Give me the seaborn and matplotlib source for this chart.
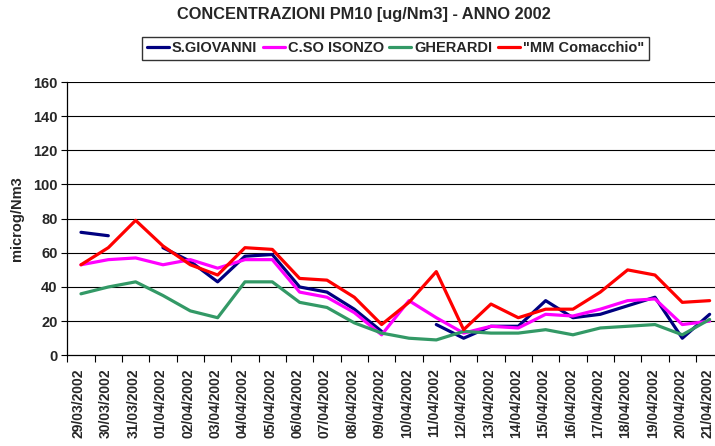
import numpy as np
import pandas as pd
import matplotlib
matplotlib.use("Agg")
import matplotlib.pyplot as plt
from matplotlib.lines import Line2D
import seaborn as sns

dates = ["29/03/2002", "30/03/2002", "31/03/2002", "01/04/2002", "02/04/2002",
         "03/04/2002", "04/04/2002", "05/04/2002", "06/04/2002", "07/04/2002",
         "08/04/2002", "09/04/2002", "10/04/2002", "11/04/2002", "12/04/2002",
         "13/04/2002", "14/04/2002", "15/04/2002", "16/04/2002", "17/04/2002",
         "18/04/2002", "19/04/2002", "20/04/2002", "21/04/2002"]

nan = np.nan
s_giovanni = [72, 70, nan, 63, 55, 43, 58, 59, 40, 37, 27, 14,
              nan, 18, 10, 17, 17, 32, 22, 24, 29, 34, 10, 24]
cso_isonzo = [53, 56, 57, 53, 56, 51, 56, 56, 37, 34, 25, 12,
              32, 22, 13, 17, 16, 24, 23, 27, 32, 33, 18, 20]
gherardi = [36, 40, 43, 35, 26, 22, 43, 43, 31, 28, 19, 13,
            10, 9, 14, 13, 13, 15, 12, 16, 17, 18, 12, 21]
mm_comacchio = [53, 63, 79, 64, 53, 47, 63, 62, 45, 44, 34, 18,
                31, 49, 15, 30, 22, 27, 27, 37, 50, 47, 31, 32]

series_names = ["S.GIOVANNI", "C.SO ISONZO", "GHERARDI", "\"MM Comacchio\""]
series_values = [s_giovanni, cso_isonzo, gherardi, mm_comacchio]
colors = ["#000080", "#FF00FF", "#339966", "#FF0000"]

yticks = [0, 20, 40, 60, 80, 100, 120, 140, 160]

# long table with segment ids so that missing values leave gaps
rows = []
for name, vals in zip(series_names, series_values):
    seg = 0
    prev_nan = False
    for i, v in enumerate(vals):
        if np.isnan(v):
            prev_nan = True
            continue
        if prev_nan:
            seg += 1
            prev_nan = False
        rows.append({"x": i, "value": v, "series": name, "seg": f"{name}_{seg}"})
df = pd.DataFrame(rows)

sns.set_theme(style="white")
plt.rcParams["font.family"] = ["Liberation Sans", "DejaVu Sans"]
plt.rcParams["font.weight"] = "bold"

fig = plt.figure(figsize=(7.15, 4.46), dpi=100)
ax = fig.add_axes([67.3 / 715, 1 - 355.3 / 446, 656 / 715, (355.3 - 82) / 446])

for y in yticks[1:]:
    ax.axhline(y, color="#000000", lw=0.8, zorder=0)

sns.lineplot(data=df, x="x", y="value", hue="series", units="seg", estimator=None,
             hue_order=series_names, palette=colors, lw=2.3, ax=ax, legend=False,
             sort=True)

ax.set_xlim(-0.5, len(dates) - 0.5)
ax.set_ylim(0, 160)
ax.set_yticks(yticks)
ax.set_yticklabels([str(t) for t in yticks], fontsize=10.5, fontweight="bold")

ax.set_xticks(np.arange(-0.5, len(dates) + 0.5, 1.0))
ax.set_xticklabels([])
ax.set_xticks(np.arange(len(dates)) - 0.08, minor=True)
ax.set_xticklabels(dates, minor=True, rotation=90, fontsize=10, fontweight="bold")
ax.tick_params(axis="x", which="major", direction="out", length=5, width=0.8,
               color="black", bottom=True)
ax.tick_params(axis="x", which="minor", length=0, pad=9.5, bottom=True)
ax.tick_params(axis="y", direction="out", length=4, width=0.8, color="black",
               left=True, pad=3)

for side in ["top", "right"]:
    ax.spines[side].set_visible(False)
for side in ["left", "bottom"]:
    ax.spines[side].set_color("black")
    ax.spines[side].set_linewidth(0.9)

ax.set_xlabel("")
ax.set_ylabel("microg/Nm3", fontsize=10.5, fontweight="bold")
ax.yaxis.set_label_coords(-0.066, 0.5)

fig.text(364 / 715, 1 - 15 / 446, "CONCENTRAZIONI PM10 [ug/Nm3] - ANNO 2002",
         ha="center", va="center", fontsize=11.8, fontweight="bold")

handles = [Line2D([0], [0], color=c, lw=2.3) for c in colors]
leg = fig.legend(handles, series_names, loc="center", ncol=4,
                 bbox_to_anchor=(395.5 / 715, 1 - 48.5 / 446),
                 frameon=True, fancybox=False, edgecolor="black",
                 prop={"size": 10.5, "weight": "bold"}, handlelength=1.5,
                 handletextpad=0.2, columnspacing=0.4, borderpad=0.3)
leg.get_frame().set_linewidth(1.0)

fig.savefig("out.png", dpi=100)
